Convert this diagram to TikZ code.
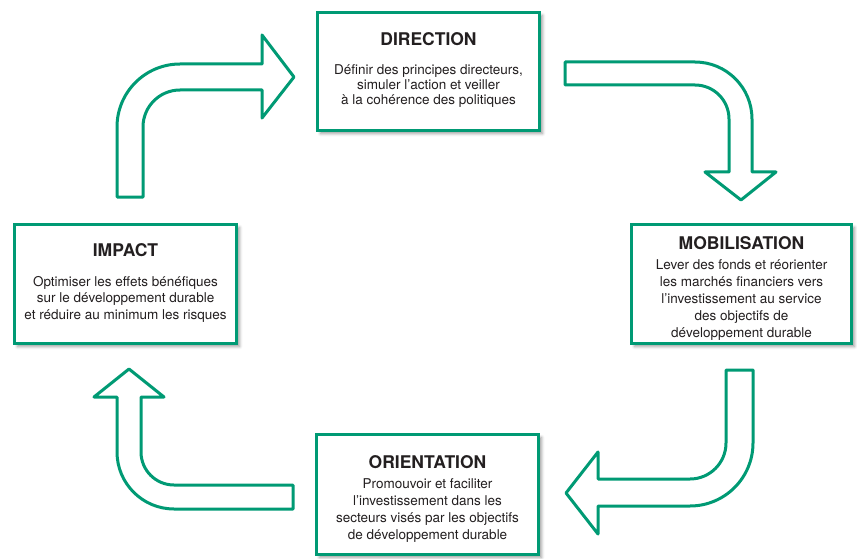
\documentclass[tikz,border=0pt]{standalone}
\usepackage{fontspec}
\setmainfont{TeX Gyre Heros}
\usepackage{tikz}
\usetikzlibrary{shadows.blur}
\usepackage{xcolor}
\definecolor{vert}{RGB}{0,154,116}
\definecolor{encre}{RGB}{35,31,32}
\tikzset{
  cadre/.style = {rectangle, draw=vert, line width=3pt, fill=white, inner sep=0pt,
    blur shadow={shadow xshift=3pt, shadow yshift=-3pt, shadow blur radius=3pt}},% boite d'une phase
  titre/.style = {align=center, inner sep=0pt, text=encre,
    font=\fontsize{17.5}{20}\selectfont\bfseries},% titre de la phase
  texte/.style = {align=center, inner sep=0pt, text=encre,
    font=\fontsize{13.5}{16.5}\selectfont},% description de la phase
  fleche/.style = {draw=vert, line width=3pt, fill=white, line join=round}% fleche coudee
}

\begin{document}
\begin{tikzpicture}[x=1pt,y=-1pt]
\useasboundingbox (0,0) rectangle (857,559);

% les quatre phases
\node [cadre, minimum width=222pt, minimum height=118pt] (dir) at (428.5,71.5) {};
\node [titre] (dir_t) at (428.5,39) {DIRECTION};
\node [texte, font=\fontsize{13.5}{15}\selectfont] (dir_x) at (428.5,86)
  {Définir des principes directeurs,\\ simuler l’action et veiller\\ à la cohérence des politiques};

\node [cadre, minimum width=220pt, minimum height=119pt] (mob) at (741.5,284) {};
\node [titre] (mob_t) at (741.5,243) {MOBILISATION};
\node [texte, font=\fontsize{13.5}{17}\selectfont] (mob_x) at (741.5,300)
  {Lever des fonds et réorienter\\ les marchés financiers vers\\ l’investissement au service\\ des objectifs de\\ développement durable};

\node [cadre, minimum width=222pt, minimum height=120pt] (ori) at (427.5,494.5) {};
\node [titre] (ori_t) at (427.5,462) {ORIENTATION};
\node [texte, font=\fontsize{13.5}{17}\selectfont] (ori_x) at (427.5,511)
  {Promouvoir et faciliter\\ l’investissement dans les\\ secteurs visés par les objectifs\\ de développement durable};

\node [cadre, minimum width=222pt, minimum height=119pt] (imp) at (125.5,284) {};
\node [titre] (imp_t) at (125.5,250) {IMPACT};
\node [texte] (imp_x) at (125.5,299)
  {Optimiser les effets bénéfiques\\ sur le développement durable\\ et réduire au minimum les risques};

% fleches coudees entre les phases
\draw [fleche] (117,197) -- (117,127) arc[start angle=180, end angle=270, radius=63]
  -- (262,64) -- (262,35) -- (294,77) -- (262,118) -- (262,90) -- (180,90)
  arc[start angle=270, end angle=180, radius=37] -- (143,197) -- cycle;
\draw [fleche] (565,62) -- (695,62) arc[start angle=270, end angle=360, radius=57]
  -- (752,172) -- (776,172) -- (741,200) -- (705,172) -- (729,172) -- (729,119)
  arc[start angle=0, end angle=-90, radius=34] -- (565,85) -- cycle;
\draw [fleche] (726,370) -- (753,370) -- (753,443) arc[start angle=0, end angle=90, radius=63]
  -- (598,506) -- (598,534) -- (566,493) -- (598,452) -- (598,479) -- (690,479)
  arc[start angle=90, end angle=0, radius=36] -- cycle;
\draw [fleche] (293,509) -- (174,509) arc[start angle=90, end angle=180, radius=57]
  -- (117,397) -- (94,397) -- (129,369) -- (164,397) -- (141,397) -- (141,452)
  arc[start angle=180, end angle=90, radius=33] -- (293,485) -- cycle;
\end{tikzpicture}
\end{document}
